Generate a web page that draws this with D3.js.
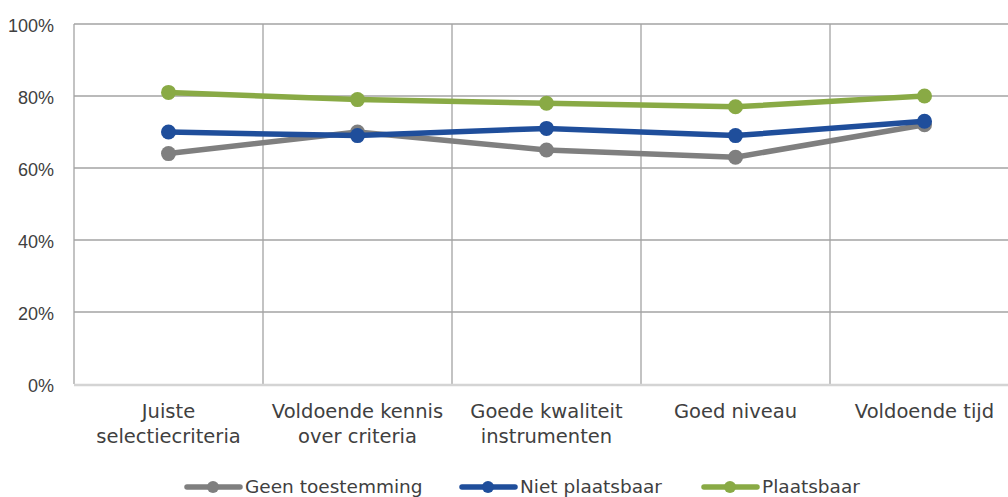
<!doctype html>
<html lang="nl">
<head>
  <meta charset="utf-8">
  <title>Criteria</title>
  <style>
    body { margin: 0; background: #fff; }
    svg { display: block; font-family: "DejaVu Sans", sans-serif; }
    .grid line { stroke: #a3a3a3; stroke-width: 1.3; }
    .tick text { fill: #404040; font-size: 18px; }
  </style>
</head>
<body>
  <div id="chart"></div>
  <script src="https://cdn.jsdelivr.net/npm/d3@7/dist/d3.min.js"></script>
  <script>
var categories = [
  ["Juiste", "selectiecriteria"],
  ["Voldoende kennis", "over criteria"],
  ["Goede kwaliteit", "instrumenten"],
  ["Goed niveau"],
  ["Voldoende tijd"]
];
var seriesNames = ["Geen toestemming", "Niet plaatsbaar", "Plaatsbaar"];
var seriesColors = ["#7f7f7f", "#1f4e9b", "#89aa45"];
var geenToestemming = [64, 70, 65, 63, 72];
var nietPlaatsbaar = [70, 69, 71, 69, 73];
var plaatsbaar = [81, 79, 78, 77, 80];
var yTicks = [0, 20, 40, 60, 80, 100];
var legendX = [185, 460, 702];

(function() {
  var width = 1008, height = 497;
  var left = 74, top = 24, bottom = 384, bandW = 189;

  var svg = d3.select("#chart").append("svg")
      .attr("width", width)
      .attr("height", height);

  var x = d3.scaleBand()
      .domain(d3.range(categories.length))
      .range([left, left + bandW * categories.length]);
  var y = d3.scaleLinear().domain([0, 100]).range([bottom, top]);

  // horizontal grid
  var g = svg.append("g").attr("class", "grid");
  g.selectAll(".h").data(yTicks.filter(function(d) { return d > 0; }))
    .enter().append("line")
      .attr("x1", left).attr("x2", width)
      .attr("y1", function(d) { return y(d); })
      .attr("y2", function(d) { return y(d); });
  // vertical grid at band edges
  g.selectAll(".v").data(d3.range(categories.length + 1))
    .enter().append("line")
      .attr("x1", function(i) { return left + i * bandW; })
      .attr("x2", function(i) { return left + i * bandW; })
      .attr("y1", top).attr("y2", bottom);

  // bottom axis line
  svg.append("line")
    .attr("x1", left).attr("x2", width)
    .attr("y1", bottom + 1).attr("y2", bottom + 1)
    .attr("stroke", "#d4d4d4").attr("stroke-width", 2.5);

  // y axis labels
  var yAxis = svg.append("g")
    .attr("transform", "translate(" + (left - 20) + ",0)")
    .call(d3.axisLeft(y).tickValues(yTicks).tickSize(0).tickPadding(0)
      .tickFormat(function(d) { return d + "%"; }));
  yAxis.select(".domain").remove();
  yAxis.selectAll("text").attr("dy", "0.4em");

  // x labels
  var xl = svg.append("g").selectAll("text").data(categories).enter()
    .append("text")
      .attr("text-anchor", "middle")
      .attr("fill", "#404040")
      .style("font-size", "19.5px")
      .attr("x", function(d, i) { return x(i) + x.bandwidth() / 2; })
      .attr("y", 418);
  xl.selectAll("tspan").data(function(d) { return d; }).enter()
    .append("tspan")
      .attr("x", function() { return d3.select(this.parentNode).attr("x"); })
      .attr("dy", function(d, i) { return i === 0 ? 0 : 25; })
      .text(function(d) { return d; });

  var data = [geenToestemming, nietPlaatsbaar, plaatsbaar];
  var line = d3.line()
    .x(function(d, i) { return x(i) + x.bandwidth() / 2; })
    .y(function(d) { return y(d); });

  data.forEach(function(vals, s) {
    svg.append("path")
      .attr("d", line(vals))
      .attr("fill", "none")
      .attr("stroke", seriesColors[s])
      .attr("stroke-width", 5.5)
      .attr("stroke-linejoin", "round");
    svg.append("g").selectAll("circle").data(vals).enter()
      .append("circle")
        .attr("cx", function(d, i) { return x(i) + x.bandwidth() / 2; })
        .attr("cy", function(d) { return y(d); })
        .attr("r", 7.5)
        .attr("fill", seriesColors[s]);
  });

  // legend
  var leg = svg.append("g").selectAll("g").data(seriesNames).enter()
    .append("g")
      .attr("transform", function(d, i) { return "translate(" + legendX[i] + ",487)"; });
  leg.append("line")
    .attr("x1", 2).attr("x2", 55)
    .attr("stroke", function(d, i) { return seriesColors[i]; })
    .attr("stroke-width", 5.5)
    .attr("stroke-linecap", "round");
  leg.append("circle")
    .attr("cx", 28).attr("r", 6)
    .attr("fill", function(d, i) { return seriesColors[i]; });
  leg.append("text")
    .attr("x", 60).attr("dy", "0.35em")
    .attr("fill", "#404040")
    .style("font-size", "18.5px")
    .text(function(d) { return d; });
})();
  </script>
</body>
</html>
